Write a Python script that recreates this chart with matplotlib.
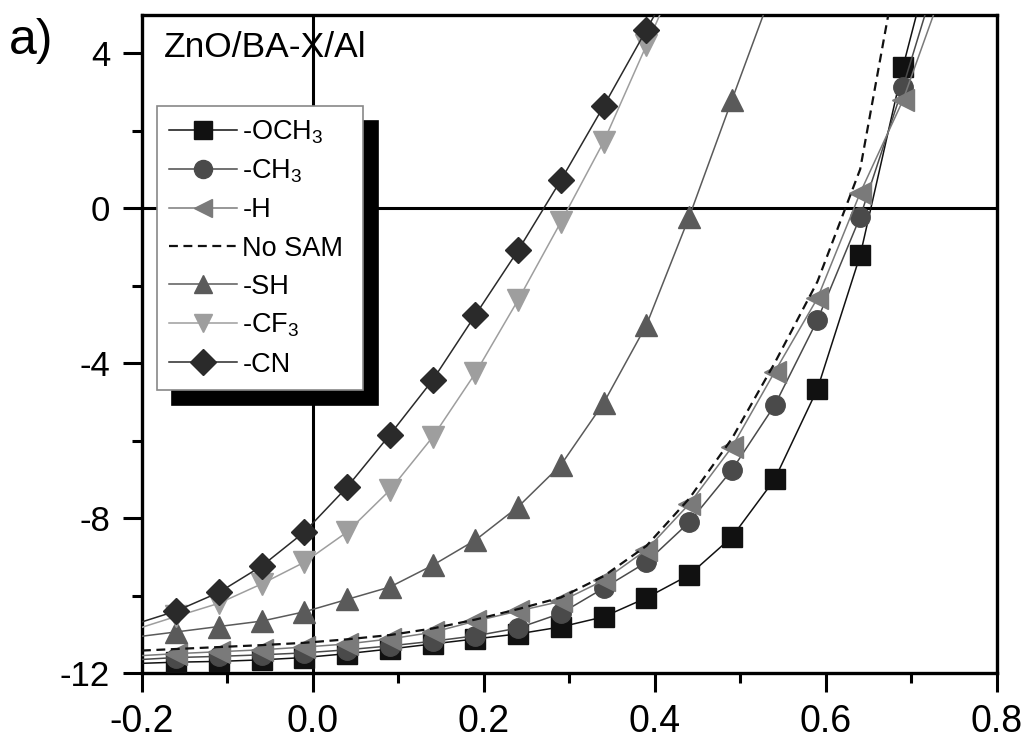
import matplotlib
matplotlib.use('Agg')
import matplotlib.pyplot as plt
from matplotlib.ticker import MultipleLocator

plt.rcParams['font.family'] = ['Liberation Sans', 'DejaVu Sans']
plt.rcParams['mathtext.fontset'] = 'custom'
plt.rcParams['mathtext.rm'] = 'Liberation Sans'

# marker voltages (V)
volts = [-0.16, -0.11, -0.06, -0.01, 0.04, 0.09, 0.14, 0.19, 0.24,
         0.29, 0.34, 0.39, 0.44, 0.49, 0.54, 0.59, 0.64, 0.69]

och3_j = [-11.72, -11.70, -11.66, -11.60, -11.50, -11.38, -11.25, -11.12, -10.99,
          -10.81, -10.55, -10.06, -9.47, -8.49, -7.00, -4.67, -1.22, 3.64]
och3_ends = [(-0.2, -11.75), (0.706, 5.0)]

ch3_j = [-11.60, -11.57, -11.53, -11.48, -11.40, -11.30, -11.18, -11.04, -10.84,
         -10.46, -9.81, -9.14, -8.11, -6.76, -5.09, -2.89, -0.23, 3.12]
ch3_ends = [(-0.2, -11.65), (0.716, 5.0)]

h_j = [-11.50, -11.45, -11.40, -11.33, -11.25, -11.12, -10.95, -10.66, -10.40,
       -10.15, -9.61, -8.82, -7.64, -6.17, -4.23, -2.33, 0.39, 2.78]
h_ends = [(-0.2, -11.55), (0.726, 5.0)]

nosam_v = [-0.2, -0.16, -0.11, -0.06, -0.01, 0.04, 0.09, 0.14, 0.19, 0.24,
           0.29, 0.34, 0.39, 0.44, 0.49, 0.54, 0.59, 0.64, 0.673]
nosam_j = [-11.42, -11.38, -11.33, -11.28, -11.22, -11.13, -11.02, -10.85, -10.62,
           -10.35, -10.05, -9.50, -8.72, -7.50, -5.95, -4.00, -1.90, 1.00, 5.0]

sh_j = [-10.94, -10.80, -10.66, -10.42, -10.10, -9.78, -9.22, -8.57, -7.71,
        -6.63, -5.03, -3.02, -0.23, 2.79]
sh_ends = [(-0.2, -11.05), (0.527, 5.0)]

cf3_j = [-10.54, -10.20, -9.70, -9.14, -8.36, -7.28, -5.91, -4.26, -2.37,
         -0.36, 1.71, 4.20]
cf3_ends = [(-0.2, -10.82), (0.406, 5.0)]

cn_j = [-10.40, -9.92, -9.24, -8.36, -7.20, -5.85, -4.44, -2.76, -1.09,
        0.72, 2.63, 4.60]
cn_ends = [(-0.2, -10.68), (0.40, 5.0)]

x_ticks = [-0.2, 0.0, 0.2, 0.4, 0.6, 0.8]
x_labels = ['-0.2', '0.0', '0.2', '0.4', '0.6', '0.8']
y_ticks = [-12, -8, -4, 0, 4]
y_labels = ['-12', '-8', '-4', '0', '4']


def full(j, ends):
    v = [ends[0][0]] + volts[:len(j)] + [ends[1][0]]
    c = [ends[0][1]] + list(j) + [ends[1][1]]
    return v, c


fig = plt.figure(figsize=(10.31, 7.44), dpi=100)
ax = fig.add_axes([0.1377, 0.0954, 0.8293, 0.8844])

series = [
    ('-OCH$_3$', och3_j, och3_ends, 's', '#111111', 14),
    ('-CH$_3$', ch3_j, ch3_ends, 'o', '#4a4a4a', 14),
    ('-H', h_j, h_ends, '<', '#7a7a7a', 16),
]
for label, j, ends, mk, col, ms in series:
    v, c = full(j, ends)
    ax.plot(v, c, color=col, lw=1.1, marker=mk, ms=ms, mfc=col, mec=col,
            markevery=slice(1, len(v) - 1), label=label, zorder=3)

ax.plot(nosam_v, nosam_j, color='#111111', lw=1.6, ls=(0, (4, 2.5)),
        label='No SAM', zorder=3)

series = [
    ('-SH', sh_j, sh_ends, '^', '#5a5a5a', 16),
    ('-CF$_3$', cf3_j, cf3_ends, 'v', '#9e9e9e', 16),
    ('-CN', cn_j, cn_ends, 'D', '#2a2a2a', 13),
]
for label, j, ends, mk, col, ms in series:
    v, c = full(j, ends)
    ax.plot(v, c, color=col, lw=1.1, marker=mk, ms=ms, mfc=col, mec=col,
            markevery=slice(1, len(v) - 1), label=label, zorder=3)

ax.axhline(0, color='k', lw=2.2, zorder=2)
ax.axvline(0, color='k', lw=2.2, zorder=2)

ax.set_xlim(-0.2, 0.8)
ax.set_ylim(-12, 4.98)
ax.set_xticks(x_ticks)
ax.set_xticklabels(x_labels, fontsize=27)
ax.set_yticks(y_ticks)
ax.set_yticklabels(y_labels, fontsize=25)
ax.xaxis.set_minor_locator(MultipleLocator(0.1))
ax.yaxis.set_minor_locator(MultipleLocator(2))
ax.tick_params(which='both', direction='out', width=2.2, top=False, right=False)
ax.tick_params(which='major', length=14)
ax.tick_params(which='minor', length=7.5)
ax.tick_params(axis='x', which='major', pad=8)
ax.tick_params(axis='y', which='major', pad=9)
for s in ax.spines.values():
    s.set_linewidth(2.4)

ax.text(0.026, 0.951, 'ZnO/BA-X/Al', transform=ax.transAxes, fontsize=25.5,
        va='center', ha='left')
fig.text(0.009, 0.945, 'a)', fontsize=36, va='center', ha='left')

leg = ax.legend(loc='upper left', bbox_to_anchor=(0.0176, 0.862, 0.2405, 0.0),
                mode='expand', borderaxespad=0,
                fontsize=19.5, handlelength=2.5, handletextpad=0.2, labelspacing=0.45,
                borderpad=0.45, fancybox=False, framealpha=1,
                shadow={'ox': 10.8, 'oy': -10.8, 'facecolor': 'k', 'edgecolor': 'k', 'alpha': 1})
leg.get_frame().set_edgecolor('#888888')
leg.get_frame().set_linewidth(1.2)
for h in leg.legend_handles:
    h.set_markersize(13)

plt.savefig('out.png', dpi=100)
